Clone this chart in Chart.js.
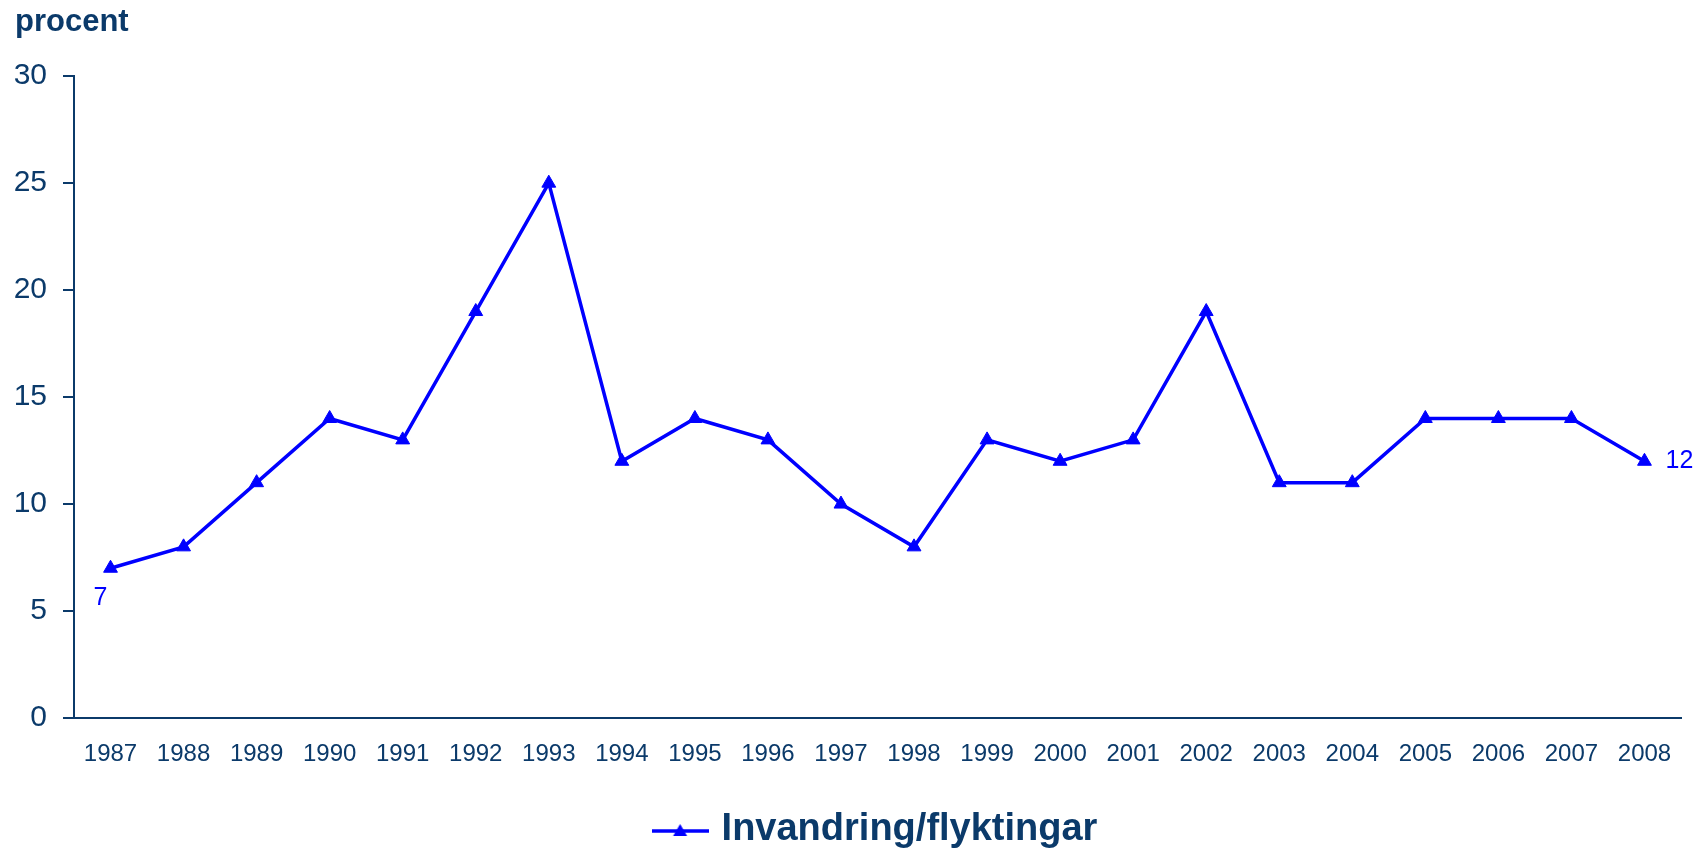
<!DOCTYPE html>
<html>
<head>
<meta charset="utf-8">
<script src="https://cdn.jsdelivr.net/npm/chart.js"></script>
<style>
  body { margin: 0; background: #fff; }
  #wrap { width: 1695px; height: 851px; }
</style>
</head>
<body>
<div id="wrap"><canvas id="myChart" width="1695" height="851"></canvas></div>
<script>
const years = ['1987', '1988', '1989', '1990', '1991', '1992', '1993', '1994', '1995', '1996', '1997',
    '1998', '1999', '2000', '2001', '2002', '2003', '2004', '2005', '2006', '2007', '2008'];
const invandring = [7, 8, 11, 14, 13, 19, 25, 12, 14, 13, 10, 8, 13, 12, 13, 19, 11, 11, 14, 14, 14, 12];
const seriesLabel = 'Invandring/flyktingar';
const yTitle = 'procent';
const yMin = 0;
const yMax = 30;
const yStep = 5;

const navy = '#0b3a6a';
const blue = '#0000ff';
const font = 'Liberation Sans, Arial, sans-serif';

// legend marker: line with triangle on it
function makeLegendMarker() {
    const c = document.createElement('canvas');
    c.width = 57;
    c.height = 18;
    const g = c.getContext('2d');
    g.strokeStyle = blue;
    g.lineWidth = 3.5;
    g.beginPath();
    g.moveTo(0, 10);
    g.lineTo(57, 10);
    g.stroke();
    g.fillStyle = blue;
    g.beginPath();
    g.moveTo(28.5, 3);
    g.lineTo(35.5, 15);
    g.lineTo(21.5, 15);
    g.closePath();
    g.fill();
    return c;
}
const legendMarker = makeLegendMarker();

// value labels on first and last point
const endLabels = {
    id: 'endLabels',
    afterDatasetsDraw(chart) {
        const ctx = chart.ctx;
        const pts = chart.getDatasetMeta(0).data;
        const data = chart.data.datasets[0].data;
        ctx.save();
        ctx.fillStyle = blue;
        ctx.font = '25px ' + font;
        ctx.textBaseline = 'middle';
        ctx.textAlign = 'center';
        ctx.fillText(String(data[0]), pts[0].x - 10, pts[0].y + 30);
        const last = pts.length - 1;
        ctx.textAlign = 'left';
        ctx.fillText(String(data[last]), pts[last].x + 21, pts[last].y);
        ctx.restore();
    }
};

const ctx = document.getElementById('myChart').getContext('2d');
new Chart(ctx, {
    type: 'line',
    data: {
        labels: years,
        datasets: [{
            label: seriesLabel,
            data: invandring,
            borderColor: blue,
            backgroundColor: blue,
            borderWidth: 3.5,
            tension: 0,
            fill: false,
            pointStyle: 'triangle',
            pointRadius: 8,
            pointBorderWidth: 1,
            pointBackgroundColor: blue,
            pointBorderColor: blue,
            clip: false
        }]
    },
    options: {
        responsive: false,
        animation: false,
        devicePixelRatio: 1,
        layout: {
            padding: { left: 15, right: 14, top: 0, bottom: -8 }
        },
        plugins: {
            tooltip: { enabled: false },
            title: {
                display: true,
                text: yTitle,
                align: 'start',
                color: navy,
                font: { family: font, size: 31, weight: 'bold' },
                padding: { top: 4, bottom: 35 }
            },
            legend: {
                position: 'bottom',
                fullSize: false,
                labels: {
                    color: navy,
                    font: { family: font, size: 38, weight: 'bold' },
                    usePointStyle: true,
                    pointStyleWidth: 45,
                    padding: 42,
                    generateLabels(chart) {
                        const ds = chart.data.datasets[0];
                        return [{
                            text: ds.label,
                            fillStyle: blue,
                            strokeStyle: blue,
                            lineWidth: 0,
                            pointStyle: legendMarker,
                            fontColor: navy,
                            hidden: false,
                            datasetIndex: 0
                        }];
                    }
                }
            }
        },
        scales: {
            x: {
                offset: true,
                grid: { display: false, drawTicks: false },
                border: { display: true, color: navy, width: 2 },
                ticks: {
                    color: navy,
                    padding: 22,
                    maxRotation: 0,
                    autoSkip: false,
                    font: { family: font, size: 24 }
                },
                afterFit(scale) {
                    scale.height = 51;
                }
            },
            y: {
                min: yMin,
                max: yMax,
                grid: {
                    display: true,
                    drawOnChartArea: false,
                    drawTicks: true,
                    tickLength: 11,
                    color: navy,
                    lineWidth: 2
                },
                border: { display: true, color: navy, width: 2 },
                ticks: {
                    stepSize: yStep,
                    color: navy,
                    padding: 16,
                    font: { family: font, size: 30 }
                },
                afterFit(scale) {
                    scale.width = 59;
                }
            }
        }
    },
    plugins: [endLabels]
});
</script>
</body>
</html>
